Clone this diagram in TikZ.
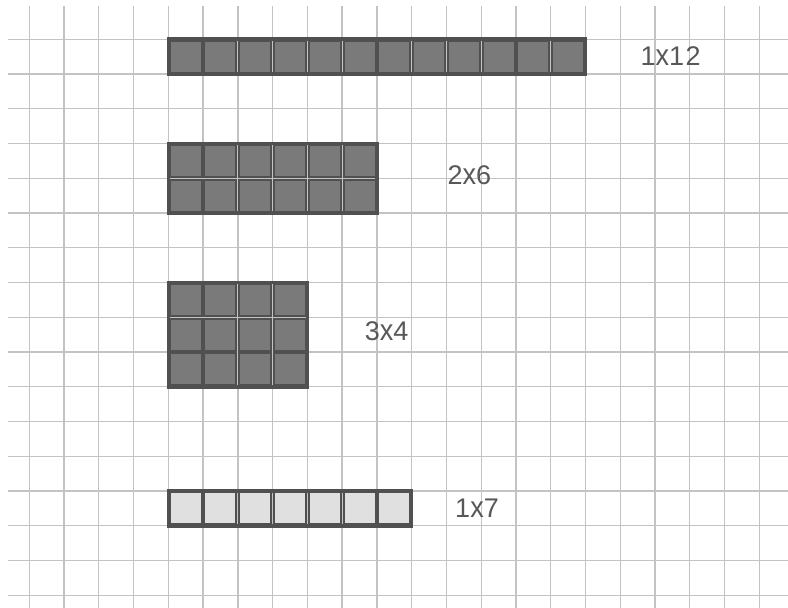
\documentclass[tikz,border=0pt]{standalone}
\usepackage{fontspec}
\setmainfont{Liberation Sans}
\usepackage{graphicx}
\definecolor{gridc}{RGB}{195,195,195}
\definecolor{edgec}{RGB}{80,80,80}
\definecolor{darkfill}{RGB}{122,122,122}
\definecolor{lightfill}{RGB}{224,224,224}
\definecolor{textc}{RGB}{88,88,88}
\tikzset{
  gridline/.style={draw=gridc, line width=1.3pt},
  cellbox/.style={draw=edgec, line width=2pt},
  outerbox/.style={draw=edgec, line width=3.5pt},
  lbl/.style={text=textc, font=\fontsize{27}{27}\selectfont\addfontfeatures{LetterSpace=6}, inner sep=0pt, anchor=center}
}
\newcommand\cellblock[5]{%
  \draw[outerbox] (#1,#2) rectangle ++(#3,#4);
  \foreach \ci in {1,...,#3}{\foreach \cj in {1,...,#4}{
    \draw[cellbox, fill=#5] ({#1+\ci-1+0.04},{#2+\cj-1+0.04}) rectangle ({#1+\ci-0.04},{#2+\cj-0.04});}}%
}
\newcommand\bigx{\scalebox{1.0}[1.1]{x}}
\begin{document}
\begin{tikzpicture}[x=1pt,y=-1pt]
  \fill[white] (0,0) rectangle (788,608);
  \useasboundingbox (0,0) rectangle (788,608);
  \begin{scope}[shift={(29.3,39.2)}, x=34.76pt, y=-34.76pt]
    % grid
    \foreach \k in {0,...,21} \draw[gridline] (\k,-0.955) -- (\k,16.36);
    \foreach \j in {0,...,16} \draw[gridline] (-0.613,\j) -- (21.83,\j);
    % blocks
    \cellblock{4}{0}{12}{1}{darkfill}
    \cellblock{4}{3}{6}{2}{darkfill}
    \cellblock{4}{7}{4}{3}{darkfill}
    \cellblock{4}{13}{7}{1}{lightfill}
    % labels
    \node[lbl] (l12) at (18.45,0.48) {1\bigx12};
    \node[lbl] (l26) at (12.66,3.91) {2\bigx6};
    \node[lbl] (l34) at (10.28,8.40) {3\bigx4};
    \node[lbl] (l17) at (12.88,13.49) {1\bigx7};
  \end{scope}
\end{tikzpicture}
\end{document}
